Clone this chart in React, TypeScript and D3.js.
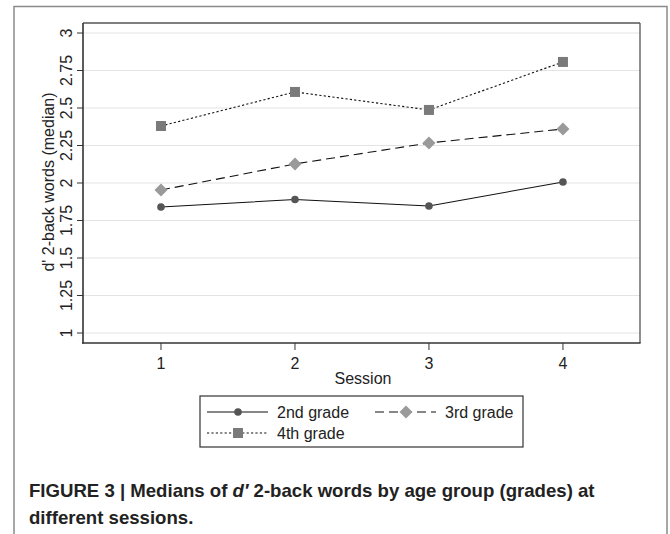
import React from "react";
import * as d3 from "d3";

const sessions = [1, 2, 3, 4];
const grade2 = [1.84, 1.89, 1.847, 2.007];
const grade3 = [1.953, 2.127, 2.267, 2.36];
const grade4 = [2.38, 2.607, 2.487, 2.807];
const yTicks = [1, 1.25, 1.5, 1.75, 2, 2.25, 2.5, 2.75, 3];
const yTickLabels = ["1", "1.25", "1.5", "1.75", "2", "2.25", "2.5", "2.75", "3"];
const seriesNames = ["2nd grade", "3rd grade", "4th grade"];

const W = 670;
const H = 534;
const L = 83, R = 640, T = 23, B = 343;
const font = "'Liberation Sans', Arial, sans-serif";

export default function App() {
  const x = d3.scaleLinear().domain([0.418, 4.575]).range([L, R]);
  const y = d3.scaleLinear().domain([1 - 10 / 150, 3 + 10 / 150]).range([B, T]);
  const line = d3
    .line<number>()
    .x((_, i) => x(sessions[i]))
    .y((d) => y(d));

  const series = [
    { name: seriesNames[0], data: grade2, dash: "none", shape: "circle", fill: "#555" },
    { name: seriesNames[1], data: grade3, dash: "9,5", shape: "diamond", fill: "#9a9a9a" },
    { name: seriesNames[2], data: grade4, dash: "2.2,2.2", shape: "square", fill: "#7a7a7a" },
  ];

  const marker = (shape: string, cx: number, cy: number, fill: string, key: any) => {
    if (shape === "circle") return <circle key={key} cx={cx} cy={cy} r={3.8} fill={fill} />;
    if (shape === "diamond") {
      const s = 6.5;
      return (
        <path key={key} d={`M${cx},${cy - s}L${cx + s},${cy}L${cx},${cy + s}L${cx - s},${cy}Z`} fill={fill} />
      );
    }
    return <rect key={key} x={cx - 5} y={cy - 5} width={10} height={10} fill={fill} />;
  };

  const legendItems = [
    { s: series[0], lx: 207, ly: 412 },
    { s: series[1], lx: 375, ly: 412 },
    { s: series[2], lx: 207, ly: 433 },
  ];

  return (
    <svg
      width={W}
      height={H}
      style={{ position: "absolute", left: 0, top: 0, background: "#fff" }}
      fontFamily={font}
    >
      <rect x={0} y={0} width={W} height={H} fill="#fff" />
      {/* outer frame (open at bottom) */}
      <path d={`M14,${H}V6.5H667V${H}`} fill="none" stroke="#8a8a8a" strokeWidth={1.5} />

      {/* gridlines */}
      {yTicks.map((t) => (
        <line key={"g" + t} x1={L} x2={R} y1={y(t)} y2={y(t)} stroke="#e3e3e3" strokeWidth={1.2} />
      ))}

      {/* plot frame */}
      <line x1={L} x2={R} y1={T} y2={T} stroke="#555" strokeWidth={1.3} />
      <line x1={R} x2={R} y1={T} y2={B} stroke="#555" strokeWidth={1.3} />
      <line x1={L} x2={L} y1={T} y2={B + 0.8} stroke="#333" strokeWidth={1.6} />
      <line x1={L - 0.8} x2={R + 0.6} y1={B} y2={B} stroke="#333" strokeWidth={1.6} />

      {/* y ticks */}
      {yTicks.map((t, i) => (
        <g key={"yt" + t}>
          <line x1={L - 6} x2={L} y1={y(t)} y2={y(t)} stroke="#333" strokeWidth={1} />
          <text
            transform={`translate(${71.5},${y(t)}) rotate(-90)`}
            textAnchor="middle"
            fontSize={16}
            fill="#222"
          >
            {yTickLabels[i]}
          </text>
        </g>
      ))}
      <text
        transform={`translate(${54},${182}) rotate(-90)`}
        textAnchor="middle"
        fontSize={16}
        fill="#222"
      >
        d' 2-back words (median)
      </text>

      {/* x ticks */}
      {sessions.map((s) => (
        <g key={"xt" + s}>
          <line x1={x(s)} x2={x(s)} y1={B} y2={B + 7} stroke="#333" strokeWidth={1} />
          <text x={x(s)} y={368.5} textAnchor="middle" fontSize={16} fill="#222">
            {s}
          </text>
        </g>
      ))}
      <text x={363} y={384} textAnchor="middle" fontSize={16} fill="#222">
        Session
      </text>

      {/* series */}
      {series.map((s) => (
        <g key={s.name}>
          <path d={line(s.data) || ""} fill="none" stroke="#111" strokeWidth={1.1} strokeDasharray={s.dash} />
          {s.data.map((v, i) => marker(s.shape, x(sessions[i]), y(v), s.fill, i))}
        </g>
      ))}

      {/* legend */}
      <rect x={200} y={396} width={323} height={51} fill="#fff" stroke="#333" strokeWidth={1.2} />
      {legendItems.map(({ s, lx, ly }) => (
        <g key={"l" + s.name}>
          <line x1={lx} x2={lx + 61} y1={ly} y2={ly} stroke="#111" strokeWidth={1.1} strokeDasharray={s.dash} />
          {marker(s.shape, lx + 31, ly, s.fill, "m")}
          <text x={lx + 70} y={ly + 5.5} fontSize={16} fill="#222">
            {s.name}
          </text>
        </g>
      ))}

      {/* caption */}
      <text x={29} y={497} fontSize={18.6} fontWeight="bold" fill="#222" fontFamily="'Liberation Sans Narrow', 'Liberation Sans', Arial, sans-serif">
        <tspan>FIGURE 3 | Medians of </tspan>
        <tspan fontStyle="italic">d′</tspan>
        <tspan> 2-back words by age group (grades) at</tspan>
      </text>
      <text x={29} y={524} fontSize={18.6} fontWeight="bold" fill="#222" fontFamily="'Liberation Sans Narrow', 'Liberation Sans', Arial, sans-serif">
        different sessions.
      </text>
    </svg>
  );
}
